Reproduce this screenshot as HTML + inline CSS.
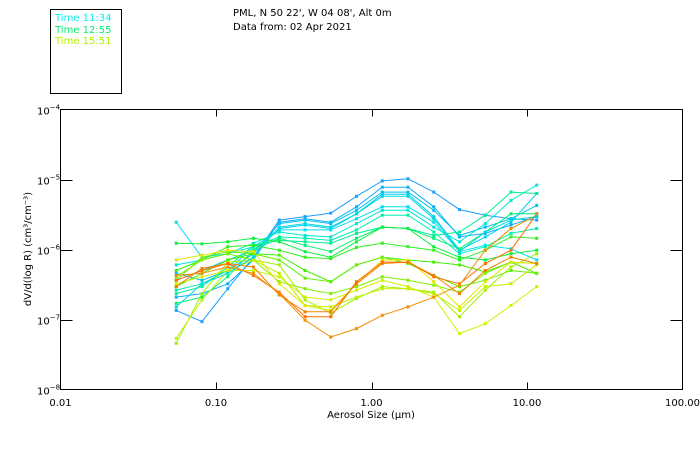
<!DOCTYPE html>
<html><head><meta charset="utf-8"><style>
body{margin:0;background:#fff;}
svg{display:block;font-family:"DejaVu Sans","Liberation Sans",sans-serif;}
</style></head><body>
<svg id="chart" width="700" height="450" viewBox="0 0 700 450">
<rect x="0" y="0" width="700" height="450" fill="#fff"/>
<g>
<rect x="50.5" y="9.5" width="71" height="84" fill="none" stroke="#000"/>
<text x="55" y="21" font-size="10" fill="#00f0f0">Time 11:34</text>
<text x="55" y="33" font-size="10" fill="#00f070">Time 12:55</text>
<text x="55" y="44" font-size="10" fill="#b0f000">Time 15:51</text>
</g>
<text x="233" y="16" font-size="10" fill="#000">PML, N 50 22', W 04 08', Alt 0m</text>
<text x="233" y="30" font-size="10" fill="#000">Data from: 02 Apr 2021</text>
<rect x="60.5" y="109.5" width="622" height="280" fill="none" stroke="#000"/>
<g id="axes"></g>
<g id="series"></g>
<text x="371" y="418" font-size="10" text-anchor="middle">Aerosol Size (μm)</text>
<text transform="translate(31,249) rotate(-90)" font-size="10" text-anchor="middle">dV/d(log R) (cm³/cm⁻³)</text>
</svg>
<script>
const xTickLabels = ["0.01","0.10","1.00","10.00","100.00"];
const xTickValues = [0.01,0.1,1,10,100];
const yTickExps = [-4,-5,-6,-7,-8];
const sizes = [0.0555,0.0813,0.119,0.174,0.255,0.374,0.547,0.801,1.173,1.717,2.514,3.68,5.39,7.89,11.55];
const colors = ["#1aa0ff","#10b0f8","#00c0f0","#00d0f0","#00e0f0","#00e8d0","#00f0b0","#00f090","#00f070","#10f040","#30f020","#40f000","#60f000","#80f000","#a0f000","#c0f000","#e0e800","#d0f000","#f08000","#ff7000","#f09000","#00d8e0"];
const s1 = [-6.87,-7.03,-6.56,-6.11,-5.58,-5.53,-5.48,-5.24,-5.02,-4.99,-5.18,-5.43,-5.51,-5.56,-5.58];
const s2 = [-6.68,-6.63,-6.49,-6.15,-5.61,-5.56,-5.61,-5.39,-5.11,-5.11,-5.39,-5.82,-5.77,-5.65,-5.53];
const s3 = [-6.34,-6.44,-6.30,-6.06,-5.63,-5.58,-5.63,-5.44,-5.18,-5.18,-5.44,-5.80,-5.68,-5.56,-5.37];
const s4 = [-6.44,-6.30,-6.15,-6.01,-5.70,-5.65,-5.70,-5.49,-5.21,-5.21,-5.53,-6.01,-5.82,-5.61,-5.20];
const s5 = [-5.61,-6.11,-6.06,-5.96,-5.72,-5.72,-5.72,-5.56,-5.39,-5.39,-5.61,-6.03,-5.94,-5.99,-6.15];
const s6 = [-6.22,-6.15,-6.06,-5.91,-5.75,-5.80,-5.82,-5.63,-5.44,-5.44,-5.68,-5.89,-5.63,-5.30,-5.08];
const s7 = [-6.58,-6.49,-6.30,-5.96,-5.82,-5.84,-5.87,-5.72,-5.51,-5.51,-5.75,-6.06,-5.96,-5.77,-5.70];
const s8 = [-6.63,-6.53,-6.25,-5.94,-5.87,-5.89,-5.91,-5.77,-5.68,-5.70,-5.80,-5.75,-5.51,-5.18,-5.20];
const s9 = [-6.77,-6.68,-6.39,-6.01,-5.84,-5.94,-6.03,-5.84,-5.68,-5.70,-5.84,-5.99,-5.75,-5.49,-5.49];
const s10 = [-5.91,-5.92,-5.89,-5.84,-5.89,-6.03,-6.11,-5.89,-5.68,-5.70,-5.96,-6.11,-6.15,-6.06,-6.01];
const s11 = [-6.30,-6.15,-5.96,-5.94,-6.01,-6.11,-6.13,-5.97,-5.91,-5.96,-6.01,-6.15,-6.01,-5.82,-5.84];
const s12 = [-6.53,-6.34,-6.15,-6.06,-6.08,-6.30,-6.46,-6.22,-6.11,-6.15,-6.18,-6.22,-6.32,-6.18,-6.34];
const s13 = [-6.44,-6.11,-6.03,-6.06,-6.15,-6.41,-6.46,-6.22,-6.11,-6.20,-6.37,-6.53,-6.44,-6.30,-6.34];
const s14 = [-6.39,-6.15,-6.06,-6.15,-6.46,-6.56,-6.63,-6.53,-6.39,-6.44,-6.51,-6.61,-6.34,-6.18,-6.20];
const s15 = [-7.34,-6.63,-6.18,-6.15,-6.22,-6.72,-6.91,-6.70,-6.53,-6.56,-6.61,-6.96,-6.58,-6.25,-6.06];
const s16 = [-7.27,-6.72,-6.30,-6.15,-6.34,-6.80,-6.82,-6.68,-6.56,-6.56,-6.63,-6.87,-6.53,-6.49,-6.22];
const s17 = [-6.15,-6.08,-6.01,-6.03,-6.49,-6.80,-6.87,-6.49,-6.15,-6.15,-6.46,-6.82,-6.46,-6.18,-6.20];
const s18 = [-6.49,-6.39,-6.30,-6.30,-6.39,-6.68,-6.72,-6.58,-6.44,-6.53,-6.68,-7.20,-7.06,-6.80,-6.53];
const s19 = [-6.53,-6.27,-6.20,-6.25,-6.65,-6.89,-6.89,-6.49,-6.20,-6.18,-6.37,-6.63,-6.30,-6.11,-6.20];
const s20 = [-6.44,-6.30,-6.20,-6.37,-6.61,-6.96,-6.96,-6.46,-6.18,-6.18,-6.39,-6.49,-6.20,-6.01,-5.49];
const s21 = [-6.37,-6.34,-6.25,-6.34,-6.63,-7.01,-7.25,-7.13,-6.94,-6.82,-6.68,-6.51,-6.01,-5.70,-5.51];
const s22 = [-6.82,-6.49,-6.34,-6.11,-5.68,-5.63,-5.68,-5.49,-5.24,-5.24,-5.56,-6.03,-5.75,-5.58,-5.53];
const allSeries = [s1,s2,s3,s4,s5,s6,s7,s8,s9,s10,s11,s12,s13,s14,s15,s16,s17,s18,s19,s20,s21,s22];

const NS = "http://www.w3.org/2000/svg";
const X0 = 60.5, X1 = 682.5, Y0 = 109.5, Y1 = 389.5;
function xScale(v){ return X0 + (Math.log10(v) + 2) / 4 * (X1 - X0); }
function yScale(logv){ return Y0 + (-4 - logv) / 4 * (Y1 - Y0); }
function mk(tag, attrs, parent){
  const e = document.createElementNS(NS, tag);
  for (const k in attrs) e.setAttribute(k, attrs[k]);
  parent.appendChild(e);
  return e;
}
const axes = document.getElementById("axes");
xTickValues.forEach((v, i) => {
  const x = Math.round(xScale(v)) + 0.5;
  if (i > 0 && i < xTickValues.length - 1) {
    const t1 = mk("line", {x1:x, x2:x, y1:Y1, y2:Y1-7, stroke:"#000"}, axes);
    
    
    const t2 = mk("line", {x1:x, x2:x, y1:Y0, y2:Y0+7, stroke:"#000"}, axes);
    
    
  }
  const lb = mk("text", {x:xScale(v), y:406, "font-size":10, "text-anchor":"middle"}, axes);
  lb.textContent = xTickLabels[i];
  
  
});
yTickExps.forEach((e, i) => {
  const y = Math.round(yScale(e)) + 0.5;
  if (i > 0 && i < yTickExps.length - 1) {
    const t1 = mk("line", {x1:X0, x2:X0+12, y1:y, y2:y, stroke:"#000"}, axes);
    
    
    const t2 = mk("line", {x1:X1, x2:X1-12, y1:y, y2:y, stroke:"#000"}, axes);
    
    
  }
  const lb = mk("text", {x:37, y:y+4, "font-size":10}, axes);
  lb.textContent = "10";
  const sup = mk("tspan", {dy:-5, "font-size":7}, lb);
  sup.textContent = "−" + (-e);
  
  
});
const sg = document.getElementById("series");
allSeries.forEach((s, i) => {
  const g = mk("g", {}, sg);
  
  
  const pts = s.map((v, j) => xScale(sizes[j]).toFixed(1) + "," + yScale(v).toFixed(1)).join(" ");
  const pl = mk("polyline", {points:pts, fill:"none", stroke:colors[i], "stroke-width":1}, g);
  
  
  s.forEach((v, j) => {
    const r = mk("rect", {x:xScale(sizes[j])-1.5, y:yScale(v)-1.5, width:3, height:3, fill:colors[i]}, g);
    
    
  });
});
</script>
</body></html>
